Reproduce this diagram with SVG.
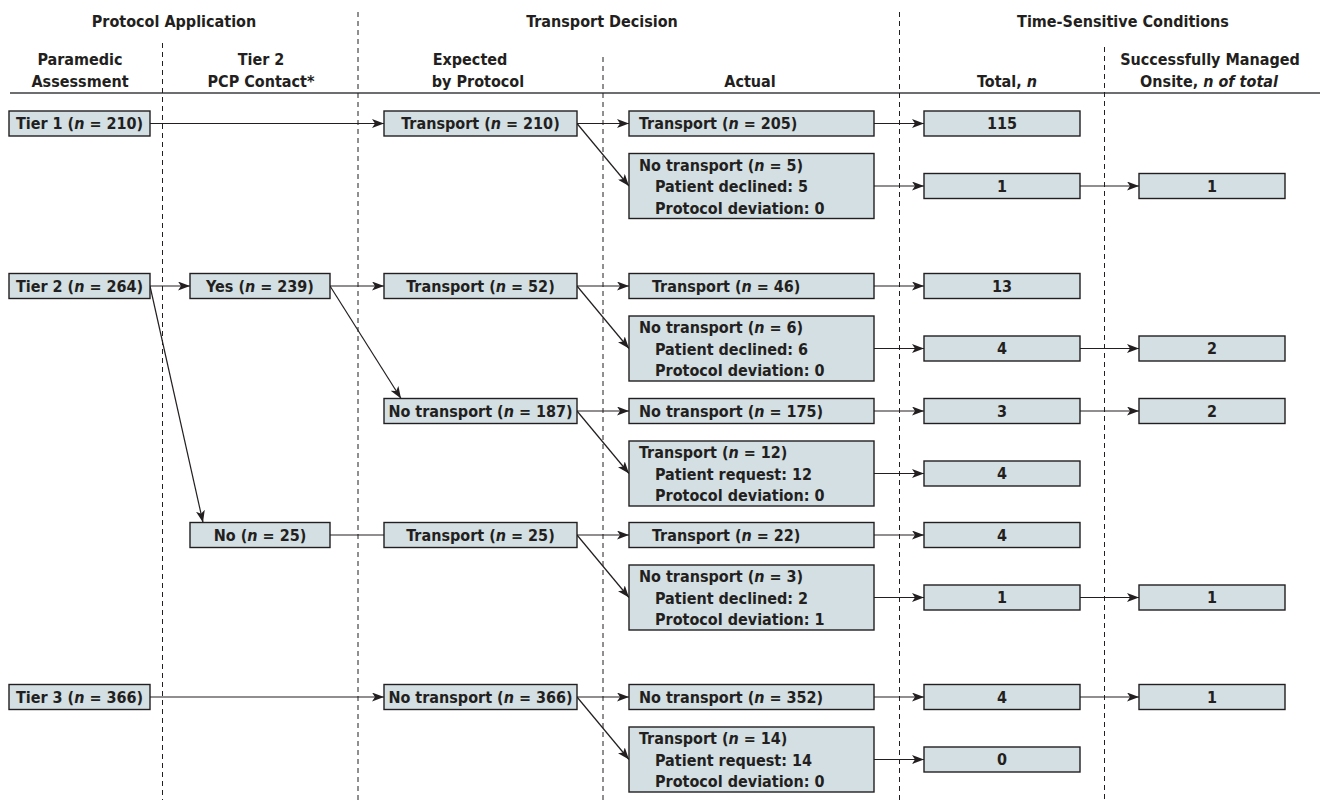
<svg xmlns="http://www.w3.org/2000/svg" width="1320" height="803" viewBox="0 0 1320 803">
<defs>
<marker id="ah" markerUnits="userSpaceOnUse" viewBox="0 0 12 9" refX="12" refY="4.5" markerWidth="12" markerHeight="9" orient="auto">
<path d="M0,0 L12,4.5 L0,9 L3,4.5 Z" fill="#231f20"/>
</marker>
<style>
text{font-family:"DejaVu Sans Condensed","DejaVu Sans",sans-serif;font-stretch:condensed;font-weight:bold;font-size:16px;fill:#231f20}
.c{text-anchor:middle}
.box{fill:#d3dfe3;stroke:#231f20;stroke-width:1.4}
.dash{stroke:#231f20;stroke-width:1;stroke-dasharray:5 4;fill:none}
.ln{stroke:#231f20;stroke-width:1.2;fill:none}
.ar{marker-end:url(#ah)}
tspan.i{font-style:italic}
</style>
</defs>
<rect width="1320" height="803" fill="#fff"/>
<g id="headers">
<text class="c" x="174" y="27">Protocol Application</text>
<text class="c" x="602" y="27">Transport Decision</text>
<text class="c" x="1123" y="27">Time-Sensitive Conditions</text>
<text class="c" x="80" y="65">Paramedic</text>
<text class="c" x="80" y="87">Assessment</text>
<text class="c" x="261" y="65">Tier 2</text>
<text class="c" x="261" y="87">PCP Contact*</text>
<text class="c" x="470" y="65">Expected</text>
<text class="c" x="478" y="87">by Protocol</text>
<text class="c" x="750" y="87">Actual</text>
<text class="c" x="1007" y="87">Total, <tspan class="i">n</tspan></text>
<text class="c" x="1210" y="65">Successfully Managed</text>
<text class="c" x="1209" y="87">Onsite, <tspan class="i">n of total</tspan></text>
<line x1="10" y1="93" x2="1320" y2="93" stroke="#6d6e70" stroke-width="2"/>
</g>
<g id="dividers">
<line class="dash" x1="162.5" y1="43" x2="162.5" y2="800"/>
<line class="dash" x1="358" y1="12" x2="358" y2="800"/>
<line class="dash" x1="603" y1="57" x2="603" y2="800"/>
<line class="dash" x1="899.5" y1="12" x2="899.5" y2="800"/>
<line class="dash" x1="1104.5" y1="47" x2="1104.5" y2="800"/>
</g>
<g id="connectors">
<path class="ln ar" d="M150,123.5 H384"/>
<path class="ln ar" d="M150,286 H190"/>
<path class="ln ar" d="M150,286 L203,522.5"/>
<path class="ln ar" d="M330,286 H384"/>
<path class="ln ar" d="M330,286 L401,398.5"/>
<path class="ln" d="M330,535 H384"/>
<path class="ln ar" d="M150,697 H384"/>
<path class="ln ar" d="M577,123.5 H629"/>
<path class="ln ar" d="M577,123.5 L629,186"/>
<path class="ln ar" d="M577,286 H629"/>
<path class="ln ar" d="M577,286 L629,348.5"/>
<path class="ln ar" d="M577,411 H629"/>
<path class="ln ar" d="M577,411 L629,473.5"/>
<path class="ln ar" d="M577,535 H629"/>
<path class="ln ar" d="M577,535 L629,597.5"/>
<path class="ln ar" d="M577,697 H629"/>
<path class="ln ar" d="M577,697 L629,759.5"/>
<path class="ln ar" d="M874,123.5 H924"/>
<path class="ln ar" d="M874,186 H924"/>
<path class="ln ar" d="M874,286 H924"/>
<path class="ln ar" d="M874,348.5 H924"/>
<path class="ln ar" d="M874,411 H924"/>
<path class="ln ar" d="M874,473.5 H924"/>
<path class="ln ar" d="M874,535 H924"/>
<path class="ln ar" d="M874,597.5 H924"/>
<path class="ln ar" d="M874,697 H924"/>
<path class="ln ar" d="M874,759.5 H924"/>
<path class="ln ar" d="M1080,186 H1139"/>
<path class="ln ar" d="M1080,348.5 H1139"/>
<path class="ln ar" d="M1080,411 H1139"/>
<path class="ln ar" d="M1080,597.5 H1139"/>
<path class="ln ar" d="M1080,697 H1139"/>
</g>
<g id="tier1"><rect class="box" x="9" y="111" width="141" height="25"/><text class="c" x="79.5" y="129">Tier 1 (<tspan class="i">n</tspan> = 210)</text></g>
<g id="tier2"><rect class="box" x="9" y="273.5" width="141" height="25"/><text class="c" x="79.5" y="291.5">Tier 2 (<tspan class="i">n</tspan> = 264)</text></g>
<g id="tier3"><rect class="box" x="9" y="684.5" width="141" height="25"/><text class="c" x="79.5" y="702.5">Tier 3 (<tspan class="i">n</tspan> = 366)</text></g>
<g id="pcp-yes"><rect class="box" x="190" y="273.5" width="140" height="25"/><text class="c" x="260" y="291.5">Yes (<tspan class="i">n</tspan> = 239)</text></g>
<g id="pcp-no"><rect class="box" x="190" y="522.5" width="140" height="25"/><text class="c" x="260" y="540.5">No (<tspan class="i">n</tspan> = 25)</text></g>
<g id="exp-a"><rect class="box" x="384" y="111" width="193" height="25"/><text class="c" x="480.5" y="129">Transport (<tspan class="i">n</tspan> = 210)</text></g>
<g id="exp-b"><rect class="box" x="384" y="273.5" width="193" height="25"/><text class="c" x="480.5" y="291.5">Transport (<tspan class="i">n</tspan> = 52)</text></g>
<g id="exp-c"><rect class="box" x="384" y="398.5" width="193" height="25"/><text class="c" x="480.5" y="416.5">No transport (<tspan class="i">n</tspan> = 187)</text></g>
<g id="exp-d"><rect class="box" x="384" y="522.5" width="193" height="25"/><text class="c" x="480.5" y="540.5">Transport (<tspan class="i">n</tspan> = 25)</text></g>
<g id="exp-e"><rect class="box" x="384" y="684.5" width="193" height="25"/><text class="c" x="480.5" y="702.5">No transport (<tspan class="i">n</tspan> = 366)</text></g>
<g id="act-a1"><rect class="box" x="629" y="111" width="245" height="25"/><text x="639" y="129">Transport (<tspan class="i">n</tspan> = 205)</text></g>
<g id="act-a2"><rect class="box" x="629" y="153.5" width="245" height="65"/><text x="639" y="170.5">No transport (<tspan class="i">n</tspan> = 5)</text><text x="655" y="192">Patient declined: 5</text><text x="655" y="213.5">Protocol deviation: 0</text></g>
<g id="act-b1"><rect class="box" x="629" y="273.5" width="245" height="25"/><text x="652" y="291.5">Transport (<tspan class="i">n</tspan> = 46)</text></g>
<g id="act-b2"><rect class="box" x="629" y="316" width="245" height="65"/><text x="639" y="333">No transport (<tspan class="i">n</tspan> = 6)</text><text x="655" y="354.5">Patient declined: 6</text><text x="655" y="376">Protocol deviation: 0</text></g>
<g id="act-c1"><rect class="box" x="629" y="398.5" width="245" height="25"/><text x="639" y="416.5">No transport (<tspan class="i">n</tspan> = 175)</text></g>
<g id="act-c2"><rect class="box" x="629" y="441" width="245" height="65"/><text x="639" y="458">Transport (<tspan class="i">n</tspan> = 12)</text><text x="655" y="479.5">Patient request: 12</text><text x="655" y="501">Protocol deviation: 0</text></g>
<g id="act-d1"><rect class="box" x="629" y="522.5" width="245" height="25"/><text x="652" y="540.5">Transport (<tspan class="i">n</tspan> = 22)</text></g>
<g id="act-d2"><rect class="box" x="629" y="565" width="245" height="65"/><text x="639" y="582">No transport (<tspan class="i">n</tspan> = 3)</text><text x="655" y="603.5">Patient declined: 2</text><text x="655" y="625">Protocol deviation: 1</text></g>
<g id="act-e1"><rect class="box" x="629" y="684.5" width="245" height="25"/><text x="639" y="702.5">No transport (<tspan class="i">n</tspan> = 352)</text></g>
<g id="act-e2"><rect class="box" x="629" y="727" width="245" height="65"/><text x="639" y="744">Transport (<tspan class="i">n</tspan> = 14)</text><text x="655" y="765.5">Patient request: 14</text><text x="655" y="787">Protocol deviation: 0</text></g>
<g id="tot-a1"><rect class="box" x="924" y="111" width="156" height="25"/><text class="c" x="1002" y="129">115</text></g>
<g id="tot-a2"><rect class="box" x="924" y="173.5" width="156" height="25"/><text class="c" x="1002" y="191.5">1</text></g>
<g id="tot-b1"><rect class="box" x="924" y="273.5" width="156" height="25"/><text class="c" x="1002" y="291.5">13</text></g>
<g id="tot-b2"><rect class="box" x="924" y="336" width="156" height="25"/><text class="c" x="1002" y="354">4</text></g>
<g id="tot-c1"><rect class="box" x="924" y="398.5" width="156" height="25"/><text class="c" x="1002" y="416.5">3</text></g>
<g id="tot-c2"><rect class="box" x="924" y="461" width="156" height="25"/><text class="c" x="1002" y="479">4</text></g>
<g id="tot-d1"><rect class="box" x="924" y="522.5" width="156" height="25"/><text class="c" x="1002" y="540.5">4</text></g>
<g id="tot-d2"><rect class="box" x="924" y="585" width="156" height="25"/><text class="c" x="1002" y="603">1</text></g>
<g id="tot-e1"><rect class="box" x="924" y="684.5" width="156" height="25"/><text class="c" x="1002" y="702.5">4</text></g>
<g id="tot-e2"><rect class="box" x="924" y="747" width="156" height="25"/><text class="c" x="1002" y="765">0</text></g>
<g id="man-a2"><rect class="box" x="1139" y="173.5" width="146" height="25"/><text class="c" x="1212" y="191.5">1</text></g>
<g id="man-b2"><rect class="box" x="1139" y="336" width="146" height="25"/><text class="c" x="1212" y="354">2</text></g>
<g id="man-c1"><rect class="box" x="1139" y="398.5" width="146" height="25"/><text class="c" x="1212" y="416.5">2</text></g>
<g id="man-d2"><rect class="box" x="1139" y="585" width="146" height="25"/><text class="c" x="1212" y="603">1</text></g>
<g id="man-e1"><rect class="box" x="1139" y="684.5" width="146" height="25"/><text class="c" x="1212" y="702.5">1</text></g>
</svg>
